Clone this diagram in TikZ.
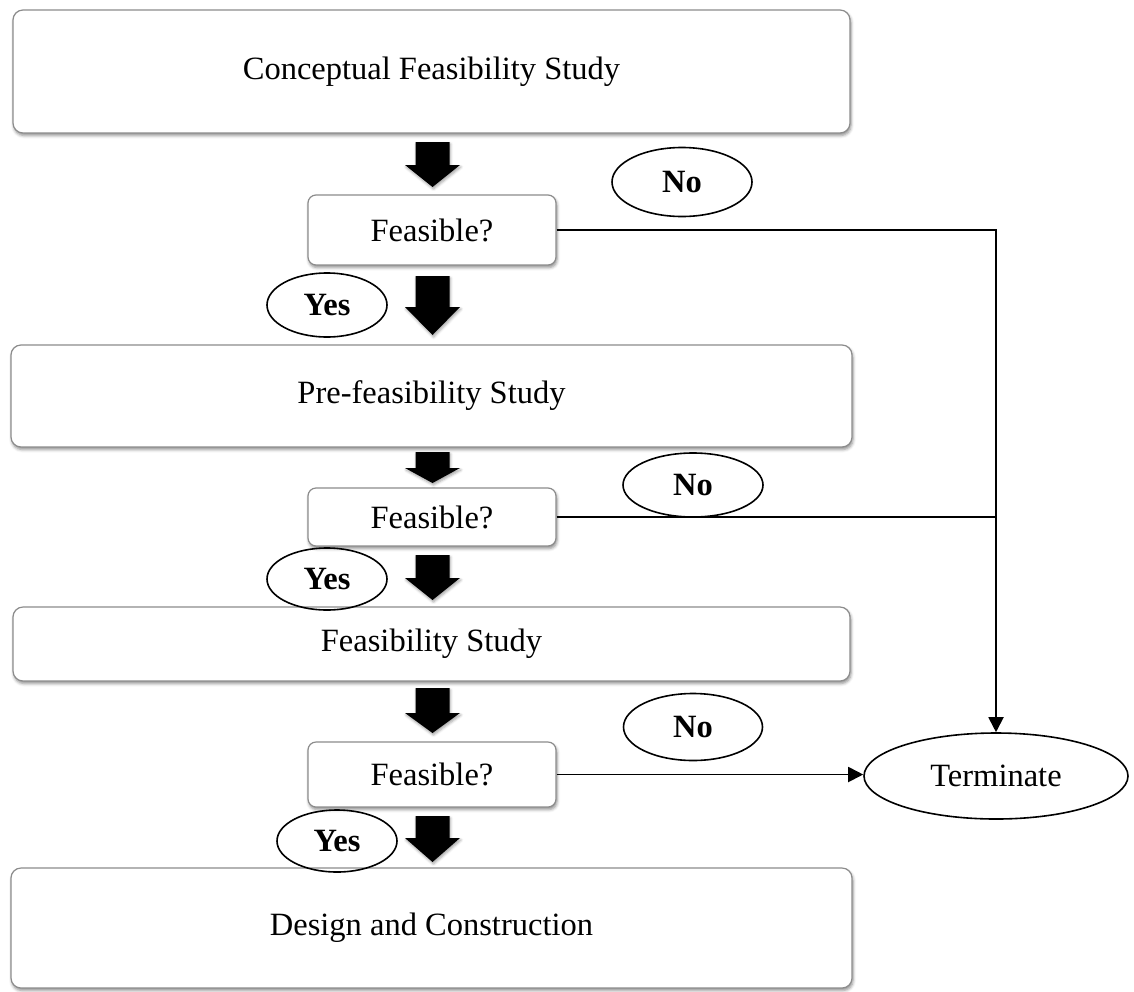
\documentclass[tikz,border=0pt]{standalone}
\usepackage{fontspec}
\setmainfont{Liberation Serif}
\usetikzlibrary{arrows.meta,shapes.geometric,shadows.blur}

% solid block arrow pointing down, centred on the main column
% #1 top of shaft, #2 start of head, #3 tip
\newcommand\fatarrow[3]{%
  \path[blockarrow] (415.5,#1) -- (449.5,#1) -- (449.5,#2) -- (460,#2)
    -- (432.5,#3) -- (405,#2) -- (415.5,#2) -- cycle;}

\begin{document}
\begin{tikzpicture}[x=1pt,y=-1pt,
  txt/.style={font=\fontsize{32.5}{39}\selectfont},
  stage/.style={txt, draw=black!45, line width=1.2pt, fill=white,
    rounded corners=10pt, inner sep=0pt,
    blur shadow={shadow xshift=1pt, shadow yshift=-2.5pt,
      shadow blur radius=3pt, shadow opacity=45}},
  query/.style={stage, rounded corners=8pt, minimum width=248pt},
  answer/.style={font=\fontsize{32.5}{39}\selectfont\bfseries,
    draw=black, line width=1.6pt, ellipse, inner sep=0pt},
  endnode/.style={txt, draw=black, line width=1.6pt, fill=white,
    ellipse, inner sep=0pt, minimum width=264pt, minimum height=86pt},
  blockarrow/.style={fill=black,
    blur shadow={shadow xshift=1pt, shadow yshift=-2pt,
      shadow blur radius=2.5pt, shadow opacity=35}},
  conn/.style={draw=black, line width=1.9pt},
  tip/.style={-{Triangle[length=15pt,width=15pt]}}
]
\useasboundingbox (0,0) rectangle (1134,991);

% main stages
\node[stage, minimum width=837pt, minimum height=123pt] (s1) at (431.5,71.5)
  {Conceptual Feasibility Study};
\node[stage, minimum width=841pt, minimum height=102pt] (s2) at (431.5,396)
  {Pre-feasibility Study};
\node[stage, minimum width=837pt, minimum height=74pt] (s3) at (431.5,644)
  {Feasibility Study};
\node[stage, minimum width=841pt, minimum height=120pt] (s4) at (431.5,928)
  {Design and Construction};

% decision boxes
\node[query, minimum height=70pt] (q1) at (432,230) {Feasible?};
\node[query, minimum height=58pt] (q2) at (432,517) {Feasible?};
\node[query, minimum height=65pt] (q3) at (432,774.5) {Feasible?};

% outcome
\node[endnode] (term) at (996,776) {Terminate};

% block arrows between stages
\fatarrow{142}{165}{187}
\fatarrow{276}{307}{335}
\fatarrow{452}{468}{483}
\fatarrow{555}{578}{600}
\fatarrow{688}{713}{733}
\fatarrow{816}{838}{862}

% yes / no labels
\node[answer, minimum width=140pt, minimum height=69pt] (n1) at (682,182) {No};
\node[answer, minimum width=140pt, minimum height=64pt] (n2) at (693,485) {No};
\node[answer, minimum width=139pt, minimum height=67pt] (n3) at (693,727) {No};
\node[answer, minimum width=120pt, minimum height=64pt] (y1) at (327,305) {Yes};
\node[answer, minimum width=120pt, minimum height=62pt] (y2) at (327,579) {Yes};
\node[answer, minimum width=120pt, minimum height=62pt] (y3) at (337,841) {Yes};

% "no" connectors into Terminate
\draw[conn, tip] (q1.east) -| (term.north);
\draw[conn] (q2.east) -- (q2.east -| term.north);
\draw[conn, tip] (q3.east) -- (term.west |- q3.east);
\end{tikzpicture}
\end{document}
